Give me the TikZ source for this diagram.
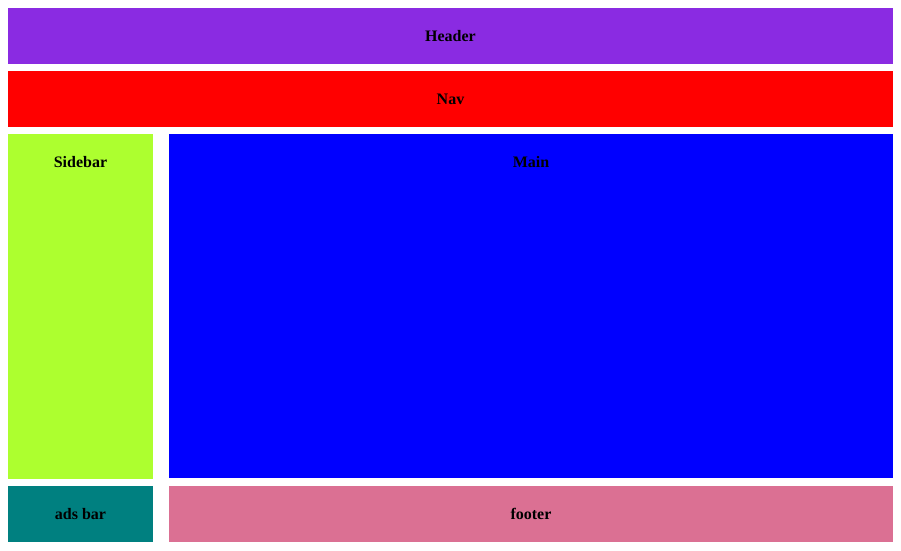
\documentclass[tikz,border=0pt]{standalone}
\usepackage{fontspec}
\setmainfont{Liberation Serif}
\definecolor{hdr}{HTML}{8A2BE2}
\definecolor{navc}{HTML}{FF0000}
\definecolor{sidec}{HTML}{ADFF2F}
\definecolor{mainc}{HTML}{0000FF}
\definecolor{adsc}{HTML}{008080}
\definecolor{footc}{HTML}{DB7093}
\tikzset{
  area/.style={inner sep=0pt, outer sep=0pt, anchor=north west},
  lbl/.style={font=\fontsize{16}{19}\selectfont\bfseries, text=black, inner sep=0pt}
}
\begin{document}
\begin{tikzpicture}[x=1pt,y=-1pt]
\useasboundingbox (0,0) rectangle (901,550);
\fill[white] (0,0) rectangle (901,550);
\node[area, fill=hdr, minimum width=885pt, minimum height=56pt] (header) at (8,8) {};
\node[area, fill=navc, minimum width=885pt, minimum height=56pt] (nav) at (8,71) {};
\node[area, fill=sidec, minimum width=145pt, minimum height=345pt] (sidebar) at (8,134) {};
\node[area, fill=mainc, minimum width=724pt, minimum height=344pt] (main) at (169,134) {};
\node[area, fill=adsc, minimum width=145pt, minimum height=56pt] (ads) at (8,486) {};
\node[area, fill=footc, minimum width=724pt, minimum height=56pt] (footer) at (169,486) {};
\node[lbl] (tHeader) at (header.center) {Header};
\node[lbl] (tNav) at (nav.center) {Nav};
\node[lbl] (tSide) at ([yshift=-28pt]sidebar.north) {Sidebar};
\node[lbl] (tMain) at ([yshift=-28pt]main.north) {Main};
\node[lbl] (tAds) at (ads.center) {ads bar};
\node[lbl] (tFoot) at (footer.center) {footer};
\end{tikzpicture}
\end{document}
